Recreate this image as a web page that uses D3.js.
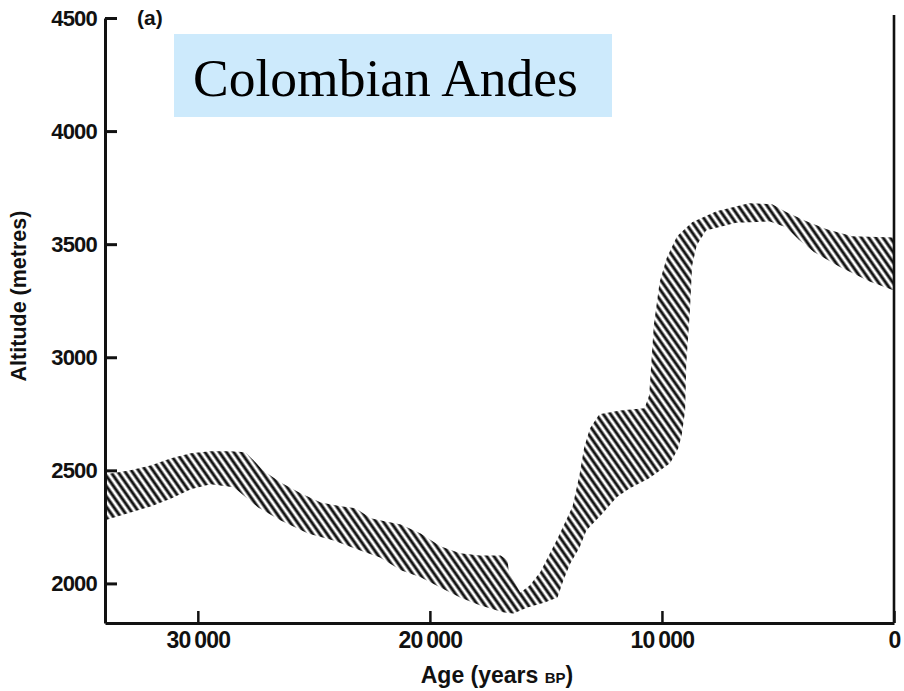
<!DOCTYPE html>
<html>
<head>
<meta charset="utf-8">
<script src="https://cdn.jsdelivr.net/npm/d3@7/dist/d3.min.js"></script>
<style>
  html, body { margin: 0; padding: 0; background: #ffffff; }
  svg { display: block; }
  .tick text { font-family: "Liberation Sans", Arial, sans-serif; font-weight: bold; fill: #111111; }
</style>
</head>
<body>
<svg id="chart" width="904" height="691"></svg>
<script>
// Upper edge of the altitude band, oldest to youngest: [age (yr BP), altitude (m)]
const upperEdge = [
  [34000, 2482], [32900, 2500], [32000, 2522], [31150, 2553], [30300, 2575],
  [29450, 2584], [28600, 2584], [27950, 2580], [27600, 2545], [27200, 2500],
  [26450, 2447], [25550, 2398], [24700, 2358], [23850, 2341], [23200, 2332],
  [22550, 2288], [21900, 2274], [21250, 2261], [20400, 2221], [19550, 2164],
  [18700, 2133], [17850, 2124], [16950, 2124], [16650, 2102], [16600, 2049],
  [16100, 1960], [15700, 1991], [15250, 2049], [14500, 2199], [13850, 2341],
  [13550, 2482], [13350, 2602], [13100, 2686], [12700, 2748], [11800, 2765],
  [10750, 2774], [10550, 2832], [10450, 2987], [10350, 3142], [10100, 3332],
  [9800, 3438], [9350, 3535], [8700, 3597], [7650, 3646], [6250, 3681],
  [5250, 3677], [4650, 3642], [3800, 3602], [2900, 3566], [1800, 3535],
  [0, 3530]
];

// Lower edge of the band, youngest to oldest
const lowerEdge = [
  [0, 3295], [1050, 3335], [2350, 3400], [3450, 3465], [4100, 3520],
  [4650, 3575], [5350, 3600], [6800, 3595], [8100, 3560], [8500, 3495],
  [8700, 3405], [8800, 3195], [8950, 2975], [9000, 2765], [9150, 2655],
  [9300, 2597], [9650, 2531], [10550, 2465], [11400, 2420], [11950, 2381],
  [12550, 2310], [13250, 2235], [13550, 2159], [13950, 2088], [14250, 2013],
  [14500, 1938], [15050, 1916], [15800, 1894], [16400, 1867], [16850, 1872],
  [17850, 1903], [18700, 1938], [19550, 1982], [20400, 2027], [21250, 2058],
  [22150, 2115], [23000, 2146], [24150, 2190], [25250, 2221], [26450, 2279],
  [27400, 2336], [28450, 2425], [29450, 2438], [30300, 2416], [31150, 2376],
  [32000, 2341], [32900, 2314], [34000, 2279]
];

const ageTicks = [30000, 20000, 10000, 0];
const altitudeTicks = [2000, 2500, 3000, 3500, 4000, 4500];
const ageDomain = [34000, 0];
const altitudeDomain = [1825, 4500];

const svg = d3.select("#chart");
const ink = "#111111";

const x = d3.scaleLinear().domain(ageDomain).range([105, 894]);
const y = d3.scaleLinear().domain(altitudeDomain).range([623, 18]);

// Diagonal hatching used to fill the band
const defs = svg.append("defs");
const hatch = defs.append("pattern")
  .attr("id", "hatch")
  .attr("patternUnits", "userSpaceOnUse")
  .attr("width", 5.9)
  .attr("height", 12)
  .attr("patternTransform", "rotate(-35)");
hatch.append("line")
  .attr("x1", 2.95).attr("y1", -1)
  .attr("x2", 2.95).attr("y2", 13)
  .attr("stroke", "#121212")
  .attr("stroke-width", 3);

// Title box
svg.append("rect")
  .attr("x", 174).attr("y", 34)
  .attr("width", 438).attr("height", 83)
  .attr("fill", "#cdeafc");
svg.append("text")
  .attr("x", 193).attr("y", 96)
  .attr("font-family", "'Liberation Serif', 'Times New Roman', serif")
  .attr("font-size", 53.5)
  .attr("fill", "#000")
  .text("Colombian Andes");

// Band outline: upper edge left to right, then lower edge back
const outline = upperEdge.concat(lowerEdge);
const bandLine = d3.line()
  .x(d => x(d[0]))
  .y(d => y(d[1]))
  .curve(d3.curveLinearClosed);

svg.append("path")
  .attr("d", bandLine(outline))
  .attr("fill", "url(#hatch)");

// Left axis
const yAxis = d3.axisLeft(y)
  .tickValues(altitudeTicks)
  .tickSize(-12)
  .tickSizeOuter(0)
  .tickPadding(8)
  .tickFormat(d3.format("d"));
const gy = svg.append("g")
  .attr("transform", "translate(105,0)")
  .call(yAxis);
gy.select(".domain").attr("stroke", ink).attr("stroke-width", 3);
gy.selectAll(".tick line").attr("stroke", ink).attr("stroke-width", 3);
gy.selectAll(".tick text").attr("font-size", 22).attr("letter-spacing", -0.8);

// Bottom axis
const fmtAge = d => d === 0 ? "0" : d3.format("d")(d).replace(/(\d+)(\d{3})$/, "$1\u2009$2");
const xAxis = d3.axisBottom(x)
  .tickValues(ageTicks)
  .tickSize(-12)
  .tickSizeOuter(0)
  .tickPadding(9)
  .tickFormat(fmtAge);
const gx = svg.append("g")
  .attr("transform", "translate(0,623)")
  .call(xAxis);
gx.select(".domain").attr("stroke", ink).attr("stroke-width", 3);
gx.selectAll(".tick line").attr("stroke", ink).attr("stroke-width", 2.5);
gx.selectAll(".tick text").attr("font-size", 23).attr("letter-spacing", -0.8);

// Right frame line
svg.append("line")
  .attr("x1", x(0)).attr("x2", x(0))
  .attr("y1", y(4500) - 3).attr("y2", y(altitudeDomain[0]))
  .attr("stroke", ink).attr("stroke-width", 2.6);

// Panel label
svg.append("text")
  .attr("x", 137).attr("y", 25)
  .attr("font-family", "'Liberation Sans', Arial, sans-serif")
  .attr("font-weight", "bold")
  .attr("font-size", 21)
  .attr("fill", ink)
  .text("(a)");

// Axis titles
svg.append("text")
  .attr("transform", "translate(26,296) rotate(-90)")
  .attr("text-anchor", "middle")
  .attr("font-family", "'Liberation Sans', Arial, sans-serif")
  .attr("font-weight", "bold")
  .attr("font-size", 21.5)
  .attr("fill", ink)
  .text("Altitude (metres)");

const xt = svg.append("text")
  .attr("x", 497).attr("y", 683)
  .attr("text-anchor", "middle")
  .attr("font-family", "'Liberation Sans', Arial, sans-serif")
  .attr("font-weight", "bold")
  .attr("font-size", 23)
  .attr("fill", ink);
xt.append("tspan").text("Age (years ");
xt.append("tspan").attr("font-size", 15).text("BP");
xt.append("tspan").text(")");
</script>
</body>
</html>
